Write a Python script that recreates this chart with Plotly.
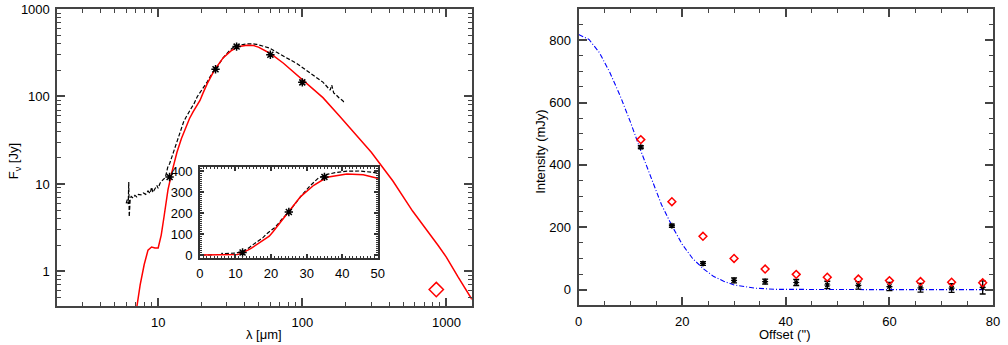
import plotly.graph_objects as go

# ---------------- Left panel: SED ----------------
spec_lam = [6.0, 6.1, 6.2, 6.25, 6.3, 6.4, 6.5, 6.7, 6.9, 7.1, 7.3, 7.6, 7.9, 8.2, 8.5, 8.8, 9.0, 9.2,
            9.5, 9.8, 10.0, 10.3, 10.6, 11.0, 11.3, 11.65, 12.0, 12.6, 13.1, 13.6, 14.0, 14.5, 15.0,
            15.6, 16.0, 16.5, 17.0, 17.8, 18.7, 19.8, 21.0, 21.9, 23.0, 25.0, 26.5, 28.6, 31.0, 33.4,
            36.0, 38.0, 41.3, 45.0, 48.4, 53.0, 59.9, 66.0, 73.7, 82.0, 90.8, 100.0, 112.0, 125.0,
            139.0, 150.0, 156.0, 160.0, 165.0, 172.0, 180.0, 190.0, 197.0]
spec_F = [6.0, 6.6, 5.9, 10.5, 4.2, 6.8, 7.2, 6.9, 7.4, 7.1, 7.6, 7.5, 7.9, 7.6, 8.3, 7.8, 9.2, 8.0,
          8.8, 9.6, 8.9, 10.2, 10.8, 11.5, 12.5, 15.5, 17.0, 21.6, 26.0, 33.0, 37.0, 44.0, 51.0,
          58.0, 62.0, 68.0, 74.0, 84.0, 100.0, 115.0, 130.0, 147.0, 170.0, 206.0, 240.0, 284.0, 330.0, 368.0,
          385.0, 392.0, 399.0, 400.0, 394.0, 378.0, 355.0, 322.0, 292.0, 262.0, 240.0, 215.0, 190.0, 165.0,
          146.0, 128.0, 118.0, 135.0, 110.0, 104.0, 96.0, 90.0, 84.0]

nir_lam = [0.55, 0.9, 1.25, 1.65, 2.2, 2.8, 3.5]
nir_F = [0.02, 0.05, 0.1, 0.15, 0.25, 0.3, 0.35]

phot_lam = [12.0, 25.0, 35.0, 60.0, 100.0]
phot_F = [12.0, 205.0, 372.0, 300.0, 145.0]

mod_lam = [0.3, 1.0, 3.0, 5.0, 6.5, 7.0, 7.5, 8.0, 8.5, 9.0, 9.5, 10.0, 10.5, 11.0, 11.7, 12.5,
           13.5, 14.5, 15.5, 16.5, 17.5, 18.5, 19.5, 20.5, 21.9, 24.6, 28.3, 32.0, 35.7, 41.3,
           45.9, 49.6, 60.0, 74.0, 91.0, 112.0, 139.0, 181.0, 250.0, 301.0, 425.0, 582.0, 881.0,
           1000.0, 1200.0, 1500.0]
mod_F = [0.001, 0.001, 0.001, 0.01, 0.1, 0.33, 0.7, 1.2, 1.75, 1.9, 1.85, 1.85, 2.6, 4.3, 8.6, 14.0,
         23.0, 33.0, 44.0, 56.0, 67.0, 77.0, 90.0, 110.0, 140.0, 201.0, 278.0, 332.0, 370.0, 386.0,
         382.0, 367.0, 310.0, 240.0, 179.0, 133.0, 97.0, 60.0, 33.0, 23.0, 10.8, 4.9, 1.95,
         1.45, 0.87, 0.48]

submm_lam = [850.0]
submm_F = [0.62]

# ---------------- Right panel: profile ----------------
offset = [12, 18, 24, 30, 36, 42, 48, 54, 60, 66, 72, 78]
inten = [457, 205, 84, 30, 26, 23, 15, 14, 10, 6, 5, 7]
inten_err = [5, 5, 6, 8, 8, 10, 12, 12, 13, 14, 14, 21]
inten_red = [481, 282, 171, 100, 66, 49, 40, 34, 29, 26, 24, 22]

beam_off = [0, 2, 4, 6, 8, 10, 12, 14, 16, 18, 20, 22, 24, 26, 28, 30, 34, 38, 45, 60, 80]
beam_val = [818, 802, 760, 697, 622, 537, 445, 358, 272, 205, 145, 100, 68, 43, 27, 15, 5, 1, 0, 0, 0]

FONT = "Liberation Sans, Arial, Helvetica, sans-serif"
AX = "#444444"
DASH = "4px,2px"

fig = go.Figure()

# main SED
fig.add_trace(go.Scatter(x=nir_lam, y=nir_F, mode="lines", xaxis="x", yaxis="y",
                         line=dict(color="black", width=1.2, dash=DASH)))
fig.add_trace(go.Scatter(x=spec_lam, y=spec_F, mode="lines", xaxis="x", yaxis="y",
                         line=dict(color="black", width=1.2, dash=DASH)))
fig.add_trace(go.Scatter(x=mod_lam, y=mod_F, mode="lines", xaxis="x", yaxis="y",
                         line=dict(color="red", width=1.5)))
fig.add_trace(go.Scatter(x=phot_lam, y=phot_F, mode="markers", xaxis="x", yaxis="y",
                         marker=dict(symbol="asterisk-open", size=7, color="black",
                                     line=dict(color="black", width=1.5))))
fig.add_trace(go.Scatter(x=submm_lam, y=submm_F, mode="markers", xaxis="x", yaxis="y",
                         marker=dict(symbol="diamond-open", size=11, color="red",
                                     line=dict(color="red", width=1.5))))

# inset
fig.add_trace(go.Scatter(x=nir_lam, y=nir_F, mode="lines", xaxis="x3", yaxis="y3",
                         line=dict(color="black", width=1.2, dash=DASH)))
fig.add_trace(go.Scatter(x=spec_lam, y=spec_F, mode="lines", xaxis="x3", yaxis="y3",
                         line=dict(color="black", width=1.2, dash=DASH)))
fig.add_trace(go.Scatter(x=mod_lam, y=mod_F, mode="lines", xaxis="x3", yaxis="y3",
                         line=dict(color="red", width=1.5)))
fig.add_trace(go.Scatter(x=phot_lam, y=phot_F, mode="markers", xaxis="x3", yaxis="y3",
                         marker=dict(symbol="asterisk-open", size=7, color="black",
                                     line=dict(color="black", width=1.5))))

# right panel
fig.add_trace(go.Scatter(x=beam_off, y=beam_val, mode="lines", xaxis="x2", yaxis="y2",
                         line=dict(color="blue", width=1.1, dash="5px,2px,1px,2px")))
fig.add_trace(go.Scatter(x=offset, y=inten, mode="markers", xaxis="x2", yaxis="y2",
                         marker=dict(symbol="asterisk-open", size=5, color="black",
                                     line=dict(color="black", width=1.2)),
                         error_y=dict(type="data", array=inten_err, color="black",
                                      thickness=1.3, width=3)))
fig.add_trace(go.Scatter(x=offset, y=inten_red, mode="markers", xaxis="x2", yaxis="y2",
                         marker=dict(symbol="diamond-open", size=6, color="red",
                                     line=dict(color="red", width=1.5))))

W, H = 1008, 345
def xd(a, b):
    return [a / W, b / W]
def yd(top, bot):
    return [(H - bot) / H, (H - top) / H]

common = dict(showline=True, linecolor=AX, linewidth=2, mirror="allticks", ticks="inside",
              tickcolor=AX, tickwidth=1.5, showgrid=False, zeroline=False,
              tickfont=dict(family=FONT, size=13, color="black"), ticklabelstandoff=3,
              ticklabeloverflow="allow")
inset_common = {**common, "linewidth": 1.5, "linecolor": "#333", "tickcolor": "#333"}

ann_font = dict(family=FONT, size=13, color="black")
fig.update_layout(
    width=W, height=H, margin=dict(l=0, r=0, t=0, b=0),
    paper_bgcolor="white", plot_bgcolor="white", showlegend=False,
    xaxis=dict(domain=xd(54, 473), anchor="y", type="log", range=[0.301, 3.176],
               tickvals=[10, 100, 1000], ticktext=["10", "100", "1000"], ticklen=8,
               minor=dict(ticks="inside", ticklen=4, tickcolor=AX, tickwidth=1.2,
                          tickvals=[2, 3, 4, 5, 6, 7, 8, 9, 20, 30, 40, 50, 60, 70, 80, 90,
                                    200, 300, 400, 500, 600, 700, 800, 900]),
               **common),
    yaxis=dict(domain=yd(2, 310), anchor="x", type="log", range=[-0.398, 3.001],
               tickvals=[1, 10, 100, 1000], ticktext=["1", "10", "100", "1000"], ticklen=8,
               minor=dict(ticks="inside", ticklen=4, tickcolor=AX, tickwidth=1.2,
                          tickvals=[0.5, 0.6, 0.7, 0.8, 0.9, 2, 3, 4, 5, 6, 7, 8, 9,
                                    20, 30, 40, 50, 60, 70, 80, 90, 200, 300, 400, 500, 600, 700, 800, 900]),
               **common),
    xaxis2=dict(domain=xd(581, 1000), anchor="y2", range=[0, 80.01], dtick=20, ticklen=8,
                minor=dict(ticks="inside", ticklen=4, dtick=5, tickcolor=AX, tickwidth=1.2),
                **common),
    yaxis2=dict(domain=yd(2, 309), anchor="x2", range=[-50, 900], tickvals=[0, 200, 400, 600, 800],
                ticklen=8,
                minor=dict(ticks="inside", ticklen=4, dtick=50, tickcolor=AX, tickwidth=1.2),
                **common),
    xaxis3=dict(domain=xd(198, 378), anchor="y3", range=[0, 50.01], dtick=10, ticklen=4,
                minor=dict(ticks="inside", ticklen=2, dtick=1, tickcolor="#333", tickwidth=1),
                **inset_common),
    yaxis3=dict(domain=yd(166, 260), anchor="x3", range=[-14, 418], dtick=100, ticklen=4,
                minor=dict(ticks="inside", ticklen=2, dtick=10, tickcolor="#333", tickwidth=1),
                **inset_common),
    annotations=[
        dict(text="F<sub>ν</sub> [Jy]", x=11 / W, y=(H - 160) / H, xref="paper", yref="paper",
             xanchor="center", yanchor="middle", textangle=-90, showarrow=False, font=ann_font),
        dict(text="λ [μm]", x=263 / W, y=(H - 339) / H, xref="paper", yref="paper",
             xanchor="center", yanchor="middle", showarrow=False, font=ann_font, borderpad=0),
        dict(text="Intensity (mJy)", x=543 / W, y=(H - 150) / H, xref="paper", yref="paper",
             xanchor="center", yanchor="middle", textangle=-90, showarrow=False, font=ann_font),
        dict(text="Offset ('')", x=790 / W, y=(H - 339) / H, xref="paper", yref="paper",
             xanchor="center", yanchor="middle", showarrow=False, font=ann_font, borderpad=0),
    ],
)

fig.write_html("out.html", config={"displayModeBar": False},
               post_script="document.body.style.margin='0';document.body.style.padding='0';")
